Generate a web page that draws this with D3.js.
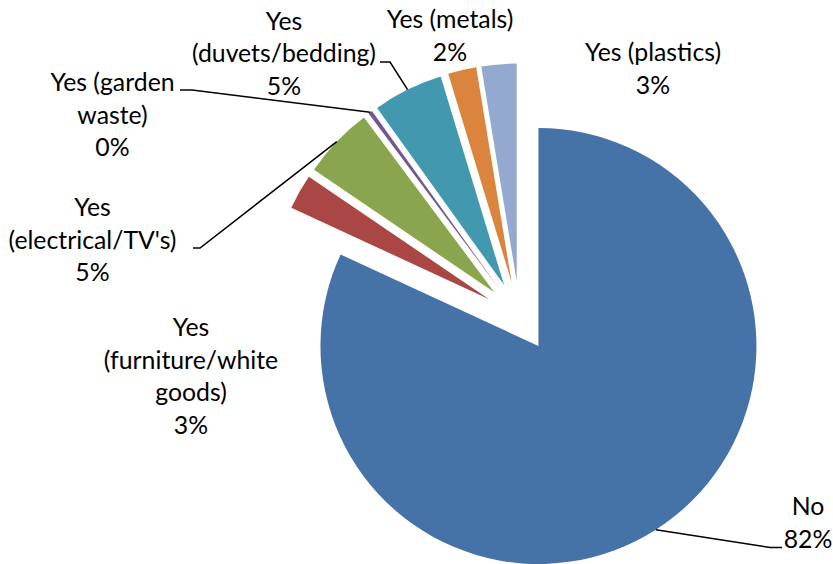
<!DOCTYPE html>
<html>
<head>
<meta charset="utf-8">
<script src="https://cdn.jsdelivr.net/npm/d3@7/dist/d3.min.js"></script>
<style>
  html, body { margin: 0; padding: 0; background: #fff; }
  svg { display: block; }
  text { font-family: Lato, "Open Sans", sans-serif; fill: #000; }
</style>
</head>
<body>
<svg id="chart" width="833" height="564"></svg>
<script>
// Survey answers: share of respondents (%)
const categories = [
  "No",
  "Yes (furniture/white goods)",
  "Yes (electrical/TV's)",
  "Yes (garden waste)",
  "Yes (duvets/bedding)",
  "Yes (metals)",
  "Yes (plastics)"
];
const shares = [81.9, 2.6, 5.3, 0.3, 5.2, 2.1, 2.6];
const sliceColors = ["#4572A7", "#AA4643", "#89A54E", "#71588F", "#4198AF", "#DB843D", "#93A9CF"];

// Label text lines, block position and optional leader-line elbow
const labelLayout = {
  "No":                          { lines: ["No"], x: 808, y: 515, elbow: [[770, 547.5], [782, 547.5]] },
  "Yes (furniture/white goods)": { lines: ["Yes", "(furniture/white", "goods)"], x: 191, y: 336 },
  "Yes (electrical/TV's)":       { lines: ["Yes", "(electrical/TV's)"], x: 92.5, y: 216, elbow: [[200, 248], [193, 248]] },
  "Yes (garden waste)":          { lines: ["Yes (garden", "waste)"], x: 112.5, y: 91, elbow: [[192, 90], [180, 90]] },
  "Yes (duvets/bedding)":        { lines: ["Yes", "(duvets/bedding)"], x: 284, y: 29.5, elbow: [[390, 62], [380, 62]] },
  "Yes (metals)":                { lines: ["Yes (metals)"], x: 450, y: 28 },
  "Yes (plastics)":              { lines: ["Yes (plastics)"], x: 653, y: 61 }
};

const svg = d3.select("#chart");
const cx = 519.6, cy = 316.5;   // pie centre before explosion
const radius = 218;
const explode = 35;             // every slice pulled out along its bisector
const lineHeight = 32.5;

const data = categories.map((c, i) => ({ category: c, value: shares[i], color: sliceColors[i] }));
const total = d3.sum(shares);

const pie = d3.pie().sort(null).value(d => d.value).startAngle(0).endAngle(2 * Math.PI);
const arc = d3.arc().innerRadius(0).outerRadius(radius);
const arcs = pie(data);

const polar = (angle, dist) => [Math.sin(angle) * dist, -Math.cos(angle) * dist];

const g = svg.append("g").attr("transform", `translate(${cx},${cy})`);

g.selectAll("path.slice")
  .data(arcs)
  .join("path")
  .attr("class", "slice")
  .attr("d", arc)
  .attr("fill", d => d.data.color)
  .attr("transform", d => {
    const mid = (d.startAngle + d.endAngle) / 2;
    const [dx, dy] = polar(mid, explode);
    return `translate(${dx},${dy})`;
  });

// Leader lines from the middle of each slice's rim to its label
arcs.forEach(d => {
  const lay = labelLayout[d.data.category];
  if (!lay.elbow) return;
  const mid = (d.startAngle + d.endAngle) / 2;
  const [px, py] = polar(mid, explode + radius);
  const pts = [[cx + px, cy + py], ...lay.elbow];
  svg.append("path")
    .attr("d", d3.line()(pts))
    .attr("fill", "none")
    .attr("stroke", "#000")
    .attr("stroke-width", 1.5);
});

// Category and percentage labels
const pct = v => Math.round(v / total * 100) + "%";
arcs.forEach(d => {
  const lay = labelLayout[d.data.category];
  const t = svg.append("text")
    .attr("text-anchor", "middle")
    .attr("font-size", 24.8);
  const lines = [...lay.lines, pct(d.data.value)];
  lines.forEach((ln, i) => {
    t.append("tspan")
      .attr("x", lay.x)
      .attr("y", lay.y + i * lineHeight)
      .text(ln);
  });
});
</script>
</body>
</html>
